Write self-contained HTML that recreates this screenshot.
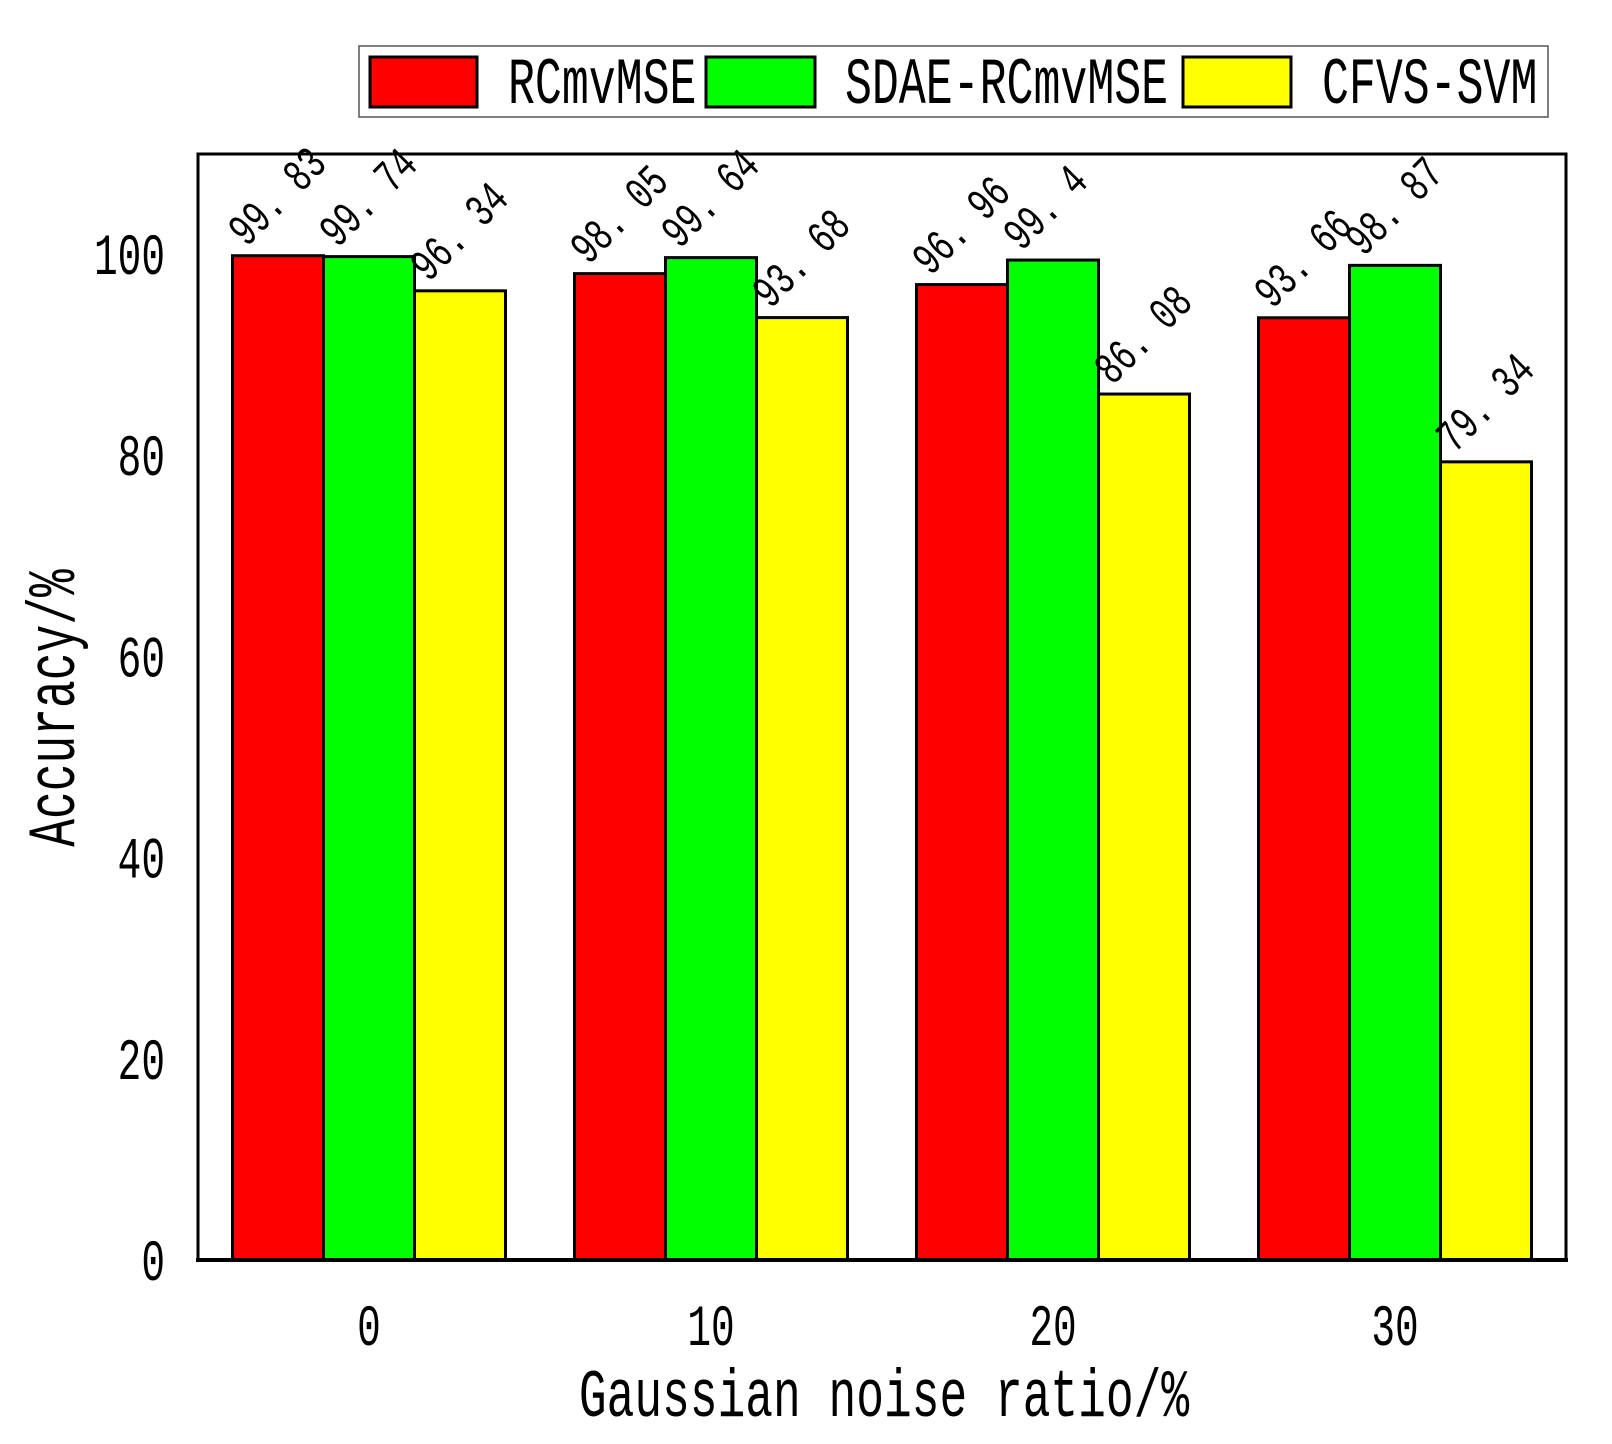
<!DOCTYPE html>
<html><head><meta charset="utf-8"><style>
html,body{margin:0;padding:0;background:#fff;}
svg{display:block;}
text{font-family:"Liberation Mono","Noto Sans CJK SC",monospace;fill:#000;}
</style></head><body>
<svg id="chart" width="1612" height="1444" viewBox="0 0 1612 1444" xmlns="http://www.w3.org/2000/svg">
<rect x="0" y="0" width="1612" height="1444" fill="#fff"/>
<g id="bars"></g>
<g id="labels"></g>
<rect x="198" y="154" width="1368" height="1106" fill="none" stroke="#000" stroke-width="3"/>
<line x1="196" y1="1260" x2="1568" y2="1260" stroke="#000" stroke-width="4"/>
<g id="yticks"></g>
<g id="xticks"></g>
<text transform="translate(74,708) rotate(-90) scale(0.68,1)" text-anchor="middle" font-size="68">Accuracy/%</text>
<text transform="translate(884,1416) scale(0.68,1)" text-anchor="middle" font-size="68">Gaussian noise ratio/%</text>
<g>
<rect x="359" y="46" width="1189" height="71" fill="#fff" stroke="#555" stroke-width="1.5"/>
<rect x="370" y="57" width="107" height="50" fill="#ff0000" stroke="#000" stroke-width="3"/>
<text transform="translate(508,103) scale(0.68,1)" font-size="66">RCmvMSE</text>
<rect x="706" y="57" width="109" height="50" fill="#00ff00" stroke="#000" stroke-width="3"/>
<text transform="translate(845,103) scale(0.68,1)" font-size="66">SDAE-RCmvMSE</text>
<rect x="1183" y="57" width="108" height="50" fill="#ffff00" stroke="#000" stroke-width="3"/>
<text transform="translate(1322,103) scale(0.68,1)" font-size="66">CFVS-SVM</text>
</g>
</svg>
<script>
const categories = ["0","10","20","30"];
const rcmvmse = [99.83, 98.05, 96.96, 93.66];
const sdae = [99.74, 99.64, 99.4, 98.87];
const cfvs = [96.34, 93.68, 86.08, 79.34];
const labelsA = ["99. 83","98. 05","96. 96","93. 66"];
const labelsB = ["99. 74","99. 64","99. 4","98. 87"];
const labelsC = ["96. 34","93. 68","86. 08","79. 34"];
const yTicks = [0,20,40,60,80,100];

const NS = "http://www.w3.org/2000/svg";
const plotL = 198, plotR = 1566, y0 = 1260, yPerUnit = 10.06;
const band = (plotR - plotL) / categories.length;
const barW = 91;
function yScale(v){ return y0 - v * yPerUnit; }
function xCenter(i){ return plotL + band * (i + 0.5); }

const series = [
  {vals: rcmvmse, labs: labelsA, color: "#ff0000", key: "rcmvmse"},
  {vals: sdae, labs: labelsB, color: "#00ff00", key: "sdae"},
  {vals: cfvs, labs: labelsC, color: "#ffff00", key: "cfvs"}
];
const gBars = document.getElementById("bars");
const gLab = document.getElementById("labels");
categories.forEach((c, i) => {
  series.forEach((s, j) => {
    const x = xCenter(i) + (j - 1.5) * barW;
    const y = yScale(s.vals[i]);
    const r = document.createElementNS(NS, "rect");
    r.setAttribute("x", x); r.setAttribute("y", y);
    r.setAttribute("width", barW); r.setAttribute("height", y0 - y);
    r.setAttribute("fill", s.color); r.setAttribute("stroke", "#000"); r.setAttribute("stroke-width", "3");
    
    
    gBars.appendChild(r);
    const t = document.createElementNS(NS, "text");
    t.setAttribute("transform", `translate(${x + 14},${y - 8}) rotate(-45) scale(0.7,1)`);
    t.setAttribute("font-size", "46");
    t.textContent = s.labs[i];
    
    
    gLab.appendChild(t);
  });
  const xt = document.createElementNS(NS, "text");
  xt.setAttribute("transform", `translate(${xCenter(i)},1345) scale(0.68,1)`);
  xt.setAttribute("text-anchor", "middle");
  xt.setAttribute("font-size", "58");
  xt.textContent = c;
  
  
  document.getElementById("xticks").appendChild(xt);
});
yTicks.forEach(v => {
  const t = document.createElementNS(NS, "text");
  t.setAttribute("transform", `translate(165,${yScale(v) + 20}) scale(0.68,1)`);
  t.setAttribute("text-anchor", "end");
  t.setAttribute("font-size", "58");
  t.textContent = v;
  
  
  document.getElementById("yticks").appendChild(t);
});
</script>
</body></html>
